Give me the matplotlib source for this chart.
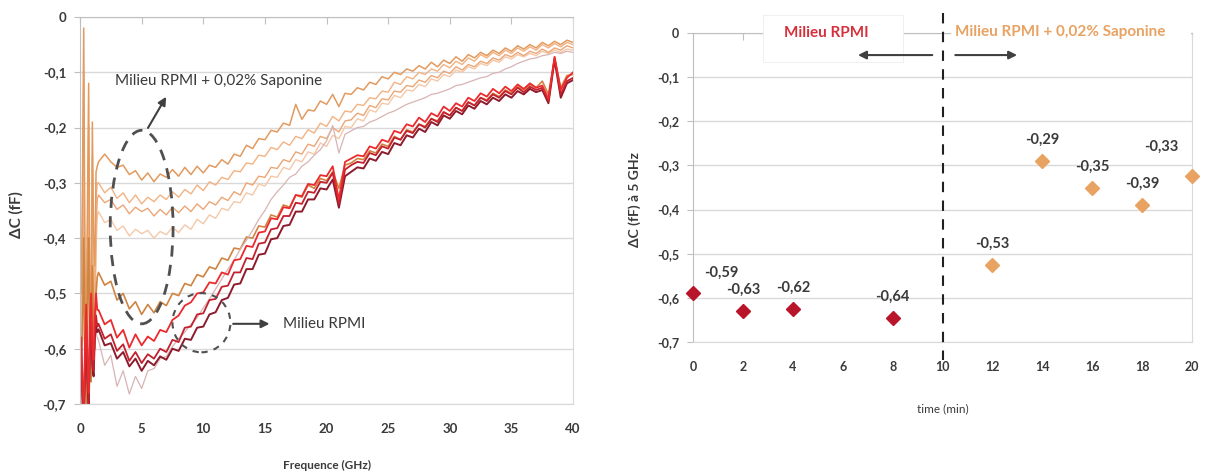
import numpy as np
import matplotlib
matplotlib.use("Agg")
import matplotlib.pyplot as plt
from matplotlib.patches import Ellipse, Rectangle
from matplotlib.ticker import FuncFormatter

plt.rcParams['font.family'] = ['Lato', 'DejaVu Sans']

# frequence (GHz) : debut fin puis pas de 0.5
freq = np.concatenate([np.arange(0.1, 1.45, 0.1), np.arange(1.5, 40.01, 0.5)])

# spectres dC (fF) - Milieu RPMI + 0,02% Saponine
o14 = [-0.50, -0.30, -0.02, -0.45, -0.60, -0.35, -0.12, -0.50, -0.55, -0.19, -0.40, -0.45, -0.28, -0.27,
       -0.262, -0.248, -0.262, -0.272, -0.268, -0.285, -0.278, -0.295, -0.282, -0.298,
       -0.284, -0.290, -0.276, -0.288, -0.272, -0.285, -0.270, -0.282, -0.268, -0.272,
       -0.258, -0.266, -0.248, -0.252, -0.232, -0.238, -0.220, -0.222, -0.205, -0.208,
       -0.192, -0.196, -0.158, -0.185, -0.168, -0.170, -0.152, -0.158, -0.140, -0.162,
       -0.138, -0.140, -0.128, -0.132, -0.118, -0.122, -0.108, -0.112, -0.100, -0.104,
       -0.094, -0.098, -0.088, -0.094, -0.082, -0.090, -0.078, -0.084, -0.072, -0.080,
       -0.068, -0.074, -0.064, -0.070, -0.060, -0.066, -0.056, -0.062, -0.052, -0.058,
       -0.050, -0.056, -0.046, -0.052, -0.044, -0.050, -0.042, -0.046]
o20 = [-0.55, -0.42, -0.10, -0.50, -0.65, -0.40, -0.20, -0.55, -0.60, -0.25, -0.45, -0.50, -0.33, -0.30,
       -0.300, -0.318, -0.308, -0.328, -0.318, -0.336, -0.322, -0.338, -0.326, -0.334,
       -0.322, -0.330, -0.316, -0.326, -0.312, -0.320, -0.304, -0.314, -0.298, -0.304,
       -0.290, -0.294, -0.278, -0.280, -0.264, -0.266, -0.250, -0.252, -0.236, -0.240,
       -0.226, -0.232, -0.216, -0.220, -0.204, -0.210, -0.192, -0.198, -0.180, -0.188,
       -0.170, -0.172, -0.158, -0.160, -0.146, -0.148, -0.134, -0.136, -0.118, -0.122,
       -0.108, -0.112, -0.100, -0.104, -0.094, -0.098, -0.086, -0.092, -0.080, -0.086,
       -0.074, -0.080, -0.068, -0.074, -0.064, -0.070, -0.060, -0.066, -0.056, -0.062,
       -0.054, -0.060, -0.050, -0.056, -0.048, -0.054, -0.046, -0.050]
o16 = [-0.60, -0.50, -0.20, -0.55, -0.68, -0.45, -0.30, -0.60, -0.62, -0.32, -0.48, -0.55, -0.38, -0.33,
       -0.322, -0.336, -0.330, -0.348, -0.340, -0.356, -0.344, -0.352, -0.346, -0.360,
       -0.348, -0.358, -0.344, -0.354, -0.342, -0.352, -0.338, -0.348, -0.334, -0.340,
       -0.326, -0.332, -0.316, -0.322, -0.300, -0.304, -0.288, -0.290, -0.272, -0.274,
       -0.258, -0.262, -0.244, -0.248, -0.230, -0.234, -0.216, -0.220, -0.200, -0.208,
       -0.188, -0.186, -0.174, -0.178, -0.160, -0.164, -0.148, -0.150, -0.134, -0.136,
       -0.124, -0.126, -0.114, -0.118, -0.106, -0.110, -0.098, -0.102, -0.090, -0.096,
       -0.086, -0.090, -0.080, -0.084, -0.074, -0.078, -0.068, -0.072, -0.064, -0.070,
       -0.062, -0.066, -0.058, -0.064, -0.056, -0.060, -0.052, -0.056]
o18 = [-0.60, -0.55, -0.30, -0.58, -0.70, -0.50, -0.35, -0.62, -0.65, -0.36, -0.50, -0.58, -0.42, -0.36,
       -0.352, -0.372, -0.366, -0.386, -0.378, -0.396, -0.384, -0.392, -0.386, -0.400,
       -0.388, -0.394, -0.380, -0.390, -0.376, -0.384, -0.366, -0.374, -0.358, -0.364,
       -0.346, -0.350, -0.334, -0.336, -0.318, -0.322, -0.302, -0.306, -0.288, -0.290,
       -0.272, -0.276, -0.258, -0.262, -0.244, -0.248, -0.228, -0.234, -0.214, -0.220,
       -0.198, -0.200, -0.184, -0.188, -0.168, -0.172, -0.156, -0.158, -0.142, -0.146,
       -0.132, -0.134, -0.122, -0.126, -0.112, -0.116, -0.104, -0.108, -0.096, -0.100,
       -0.090, -0.094, -0.084, -0.088, -0.078, -0.082, -0.072, -0.076, -0.068, -0.072,
       -0.066, -0.070, -0.062, -0.066, -0.060, -0.064, -0.058, -0.060]
o12 = [-0.62, -0.58, -0.40, -0.62, -0.70, -0.52, -0.40, -0.64, -0.66, -0.45, -0.55, -0.60, -0.50, -0.47,
       -0.462, -0.485, -0.478, -0.512, -0.500, -0.528, -0.515, -0.538, -0.520, -0.535,
       -0.515, -0.522, -0.500, -0.504, -0.482, -0.486, -0.466, -0.470, -0.452, -0.456,
       -0.436, -0.440, -0.418, -0.420, -0.398, -0.400, -0.378, -0.380, -0.358, -0.362,
       -0.340, -0.344, -0.322, -0.326, -0.304, -0.310, -0.292, -0.296, -0.280, -0.310,
       -0.268, -0.264, -0.256, -0.258, -0.242, -0.246, -0.230, -0.234, -0.216, -0.222,
       -0.204, -0.208, -0.194, -0.198, -0.184, -0.188, -0.172, -0.178, -0.164, -0.170,
       -0.154, -0.160, -0.146, -0.150, -0.138, -0.144, -0.132, -0.138, -0.126, -0.132,
       -0.122, -0.128, -0.116, -0.140, -0.076, -0.128, -0.106, -0.104]

# spectres dC (fF) - Milieu RPMI
r0 = [-0.58, -0.66, -0.72, -0.60, -0.52, -0.62, -0.68, -0.55, -0.50, -0.60, -0.62, -0.54, -0.50, -0.53,
      -0.530, -0.556, -0.548, -0.580, -0.566, -0.598, -0.574, -0.594, -0.578, -0.586,
      -0.566, -0.570, -0.548, -0.540, -0.522, -0.516, -0.500, -0.498, -0.480, -0.482,
      -0.462, -0.466, -0.440, -0.438, -0.414, -0.416, -0.390, -0.388, -0.364, -0.366,
      -0.344, -0.346, -0.322, -0.324, -0.302, -0.304, -0.286, -0.288, -0.270, -0.330,
      -0.262, -0.256, -0.250, -0.252, -0.234, -0.238, -0.222, -0.226, -0.206, -0.210,
      -0.194, -0.198, -0.182, -0.190, -0.174, -0.180, -0.162, -0.170, -0.156, -0.162,
      -0.146, -0.152, -0.138, -0.144, -0.130, -0.138, -0.126, -0.134, -0.122, -0.130,
      -0.120, -0.128, -0.124, -0.148, -0.072, -0.132, -0.110, -0.100]
r4 = [-0.60, -0.68, -0.73, -0.62, -0.55, -0.64, -0.70, -0.58, -0.52, -0.62, -0.64, -0.56, -0.54, -0.56,
      -0.555, -0.582, -0.574, -0.604, -0.592, -0.622, -0.606, -0.626, -0.610, -0.618,
      -0.600, -0.606, -0.584, -0.588, -0.562, -0.560, -0.538, -0.536, -0.512, -0.510,
      -0.488, -0.486, -0.462, -0.462, -0.436, -0.438, -0.410, -0.408, -0.384, -0.382,
      -0.360, -0.360, -0.336, -0.338, -0.316, -0.318, -0.298, -0.300, -0.282, -0.338,
      -0.276, -0.268, -0.262, -0.264, -0.246, -0.250, -0.234, -0.238, -0.218, -0.222,
      -0.206, -0.210, -0.194, -0.200, -0.184, -0.190, -0.172, -0.178, -0.164, -0.170,
      -0.154, -0.160, -0.146, -0.152, -0.140, -0.146, -0.134, -0.140, -0.128, -0.136,
      -0.126, -0.132, -0.128, -0.152, -0.074, -0.140, -0.116, -0.110]
r2 = [-0.62, -0.70, -0.74, -0.64, -0.58, -0.66, -0.71, -0.60, -0.55, -0.63, -0.65, -0.58, -0.56, -0.57,
      -0.565, -0.594, -0.590, -0.618, -0.606, -0.632, -0.618, -0.640, -0.622, -0.630,
      -0.614, -0.620, -0.600, -0.604, -0.582, -0.584, -0.562, -0.560, -0.538, -0.534,
      -0.512, -0.508, -0.484, -0.482, -0.456, -0.456, -0.430, -0.428, -0.402, -0.400,
      -0.378, -0.376, -0.352, -0.352, -0.330, -0.330, -0.310, -0.312, -0.294, -0.345,
      -0.288, -0.280, -0.272, -0.274, -0.256, -0.260, -0.244, -0.248, -0.228, -0.232,
      -0.214, -0.218, -0.202, -0.208, -0.190, -0.196, -0.178, -0.184, -0.170, -0.176,
      -0.160, -0.166, -0.152, -0.158, -0.146, -0.152, -0.140, -0.146, -0.134, -0.140,
      -0.130, -0.136, -0.132, -0.156, -0.078, -0.146, -0.120, -0.114]
r8 = [-0.62, -0.68, -0.72, -0.63, -0.56, -0.65, -0.70, -0.60, -0.54, -0.62, -0.64, -0.58, -0.57, -0.58,
      -0.585, -0.630, -0.612, -0.668, -0.640, -0.682, -0.650, -0.672, -0.640, -0.636,
      -0.618, -0.614, -0.596, -0.582, -0.570, -0.556, -0.544, -0.526, -0.510, -0.492,
      -0.474, -0.456, -0.440, -0.420, -0.404, -0.386, -0.366, -0.350, -0.330, -0.316,
      -0.304, -0.290, -0.284, -0.270, -0.262, -0.250, -0.240, -0.224, -0.196, -0.246,
      -0.212, -0.206, -0.200, -0.198, -0.190, -0.186, -0.180, -0.174, -0.170, -0.164,
      -0.158, -0.154, -0.150, -0.146, -0.140, -0.138, -0.134, -0.130, -0.124, -0.122,
      -0.118, -0.114, -0.110, -0.108, -0.102, -0.100, -0.094, -0.090, -0.084, -0.080,
      -0.076, -0.074, -0.070, -0.068, -0.064, -0.066, -0.062, -0.064]

# dC a 5 GHz en fonction du temps
t_rpmi = [0, 2, 4, 8]
dc_rpmi = [-0.59, -0.63, -0.625, -0.645]
lab_rpmi = ["-0,59", "-0,63", "-0,62", "-0,64"]
t_sap = [12, 14, 16, 18, 20]
dc_sap = [-0.525, -0.29, -0.35, -0.39, -0.325]
lab_sap = ["-0,53", "-0,29", "-0,35", "-0,39", "-0,33"]

txt = '#3A3A3A'
grid = '#D9D9D9'
comma = FuncFormatter(lambda v, p: '0' if abs(v) < 1e-9 else ('%.1f' % v).replace('.', ','))


def cadre(ax):
    ax.set_ylim(-0.7, 0)
    ax.set_yticks(np.arange(-0.7, 0.01, 0.1))
    ax.yaxis.set_major_formatter(comma)
    ax.grid(axis='y', color=grid, lw=1)
    ax.set_axisbelow(True)
    for s in ['left', 'right', 'bottom', 'top']:
        ax.spines[s].set_color(grid)
    ax.spines['left'].set_color('#BFBFBF')
    ax.spines['top'].set_color('#BFBFBF')
    ax.tick_params(axis='x', bottom=False, top=True, labelbottom=True, labeltop=False,
                   direction='in', length=5, color='#BFBFBF', pad=14, labelcolor=txt)
    ax.tick_params(axis='y', direction='out', length=4, color='#BFBFBF', pad=6, labelcolor=txt)
    for lab in ax.get_xticklabels() + ax.get_yticklabels():
        lab.set_fontweight('bold')


fig = plt.figure(figsize=(12.07, 4.72), dpi=100)

# ---- gauche : spectres
ax1 = fig.add_axes([0.0663, 0.1441, 0.4085, 0.8199])
courbes = [(o18, '#F4C8A8', 1.0), (o16, '#ECA676', 1.0), (o20, '#F2B282', 1.0),
           (o14, '#E29A5E', 1.1), (o12, '#CF8442', 1.2),
           (r8, '#D8B4B4', 0.9), (r2, '#8E1B2C', 1.4), (r4, '#C4202E', 1.3), (r0, '#EC2A2E', 1.3)]
for y, c, lw in courbes:
    ax1.plot(freq, y, color=c, lw=lw)
ax1.set_xlim(0, 40)
ax1.set_xticks(range(0, 41, 5))
cadre(ax1)
ax1.tick_params(axis='both', labelsize=9.5)
ax1.set_ylabel('ΔC (fF)', fontsize=11, fontweight='bold', color=txt)
ax1.yaxis.set_label_coords(-0.115, 0.49)
ax1.set_xlabel('Frequence (GHz)', fontsize=8.5, fontweight='bold', color=txt)
ax1.xaxis.set_label_coords(0.5, -0.145)

ax1.add_patch(Ellipse((5.0, -0.38), 5.1, 0.35, fill=False, ec='#505050', lw=2, ls=(0, (4, 3)), zorder=5))
ax1.annotate('', xy=(7.1, -0.14), xytext=(5.4, -0.205),
             arrowprops=dict(arrowstyle='-|>', color='#404040', lw=1.5, mutation_scale=12), zorder=6)
ax1.text(2.8, -0.115, 'Milieu RPMI + 0,02% Saponine', fontsize=11, color=txt, va='center', ha='left')
ax1.add_patch(Ellipse((9.85, -0.553), 4.7, 0.107, fill=False, ec='#505050', lw=1.5, ls=(0, (3, 3)), zorder=5))
ax1.annotate('', xy=(15.6, -0.555), xytext=(12.2, -0.555),
             arrowprops=dict(arrowstyle='-|>', color='#404040', lw=1.5, mutation_scale=12), zorder=6)
ax1.text(16.5, -0.555, 'Milieu RPMI', fontsize=11, color=txt, va='center', ha='left')

# ---- droite : dC a 5 GHz
ax2 = fig.add_axes([0.5742, 0.2754, 0.4134, 0.6547])
ax2.plot(t_rpmi, dc_rpmi, 'D', color='#B8142A', ms=7.5, clip_on=False, zorder=4)
ax2.plot(t_sap, dc_sap, 'D', color='#E8A262', ms=7.5, clip_on=False, zorder=4)
for x, y, s in zip(t_rpmi + t_sap, dc_rpmi + dc_sap, lab_rpmi + lab_sap):
    dx = 20 if x == 0 else (-22 if x == 20 else 0)
    dy = 16 if x == 20 else 10
    ax2.annotate(s, (x, y), xytext=(dx, dy), textcoords='offset points', ha='center', va='bottom',
                 fontsize=10.5, fontweight='bold', color=txt)
ax2.set_xlim(0, 20)
ax2.set_xticks(range(0, 21, 2))
cadre(ax2)
ax2.tick_params(axis='both', labelsize=9)
ax2.set_ylabel('ΔC (fF) à 5 GHz', fontsize=10, fontweight='bold', color=txt)
ax2.yaxis.set_label_coords(-0.105, 0.46)
ax2.set_xlabel('time (min)', fontsize=8.5, color=txt)
ax2.xaxis.set_label_coords(0.5, -0.197)

ax2.plot([10, 10], [0.045, -0.74], color='#202020', lw=1.5, ls=(0, (5, 4)), clip_on=False, zorder=5)
ax2.add_patch(Rectangle((2.8, -0.066), 5.6, 0.107, fc='white', ec='#F0F0F0', lw=0.8,
                        clip_on=False, zorder=3))
ax2.text(5.36, 0.0, 'Milieu RPMI', fontsize=11, fontweight='bold', color='#D6303C',
         ha='center', va='center', zorder=6)
ax2.add_patch(Rectangle((10.35, -0.02), 9.6, 0.05, fc='white', ec='none', clip_on=False, zorder=3))
ax2.text(10.5, 0.003, 'Milieu RPMI + 0,02% Saponine', fontsize=11, fontweight='bold', color='#E8A262',
         ha='left', va='center', zorder=6)
ax2.annotate('', xy=(6.5, -0.05), xytext=(9.7, -0.05),
             arrowprops=dict(arrowstyle='-|>', color='#404040', lw=1.5, mutation_scale=12),
             zorder=7, annotation_clip=False)
ax2.annotate('', xy=(13.1, -0.05), xytext=(10.4, -0.05),
             arrowprops=dict(arrowstyle='-|>', color='#404040', lw=1.5, mutation_scale=12),
             zorder=7, annotation_clip=False)

fig.savefig('out.png', dpi=100)
